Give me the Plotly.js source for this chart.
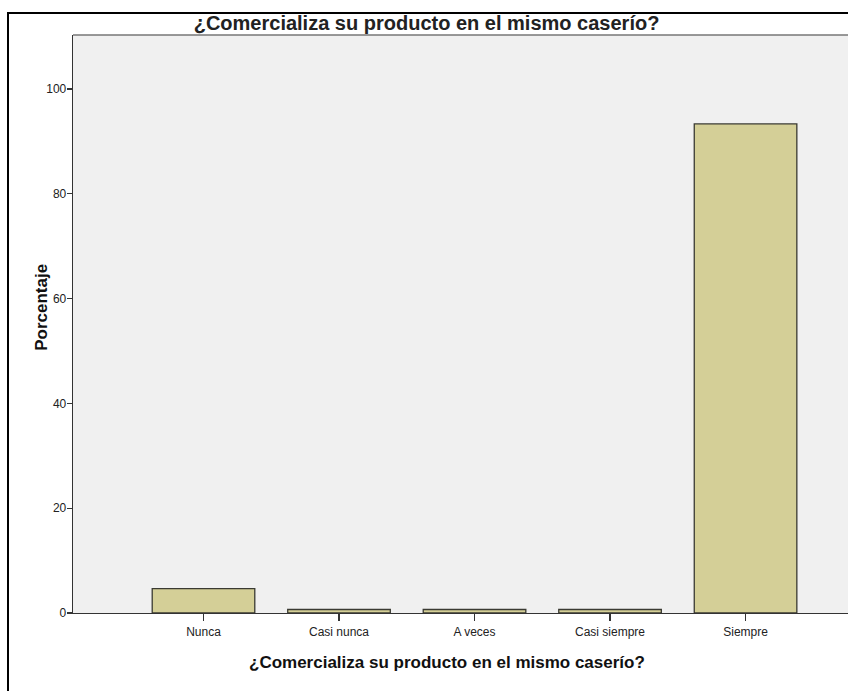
<!DOCTYPE html>
<html>
<head>
<meta charset="utf-8">
<script src="https://cdn.plot.ly/plotly-3.0.1.min.js"></script>
<style>
html,body{margin:0;padding:0;background:#fff;overflow:hidden;}
#wrap{position:relative;width:848px;height:691px;}
#chart{position:absolute;left:0;top:0;width:848px;height:691px;}
#frame{position:absolute;left:7px;top:12px;width:900px;height:800px;border:2px solid #000;pointer-events:none;}
</style>
</head>
<body>
<div id="wrap">
<div id="chart"></div>
<div id="frame"></div>
</div>
<script>
const categories = ["Nunca", "Casi nunca", "A veces", "Casi siempre", "Siempre"];
const percentages = [4.67, 0.67, 0.67, 0.67, 93.33];
const yTickValues = [0, 20, 40, 60, 80, 100];
const chartTitle = "¿Comercializa su producto en el mismo caserío?";
const xTitle = "¿Comercializa su producto en el mismo caserío?";
const yTitle = "Porcentaje";

const FONT = "Arial, Liberation Sans, sans-serif";

const trace = {
  type: "bar",
  x: categories,
  y: percentages,
  width: 0.757,
  marker: {color: "#d4cf97", line: {color: "#3a3a32", width: 1.3}},
  hoverinfo: "x+y"
};

const layout = {
  width: 848, height: 691,
  margin: {l: 73, r: 0, t: 35, b: 78},
  paper_bgcolor: "#ffffff",
  plot_bgcolor: "#f0f0f0",
  showlegend: false,
  bargap: 0,
  title: {text: chartTitle, x: 0.503, xref: "container", xanchor: "center", y: 0.967, yanchor: "middle",
          font: {family: FONT, size: 20, color: "#222", weight: "bold"}},
  xaxis: {
    type: "category",
    range: [-0.963, 4.756],
    showline: true, linecolor: "#333", linewidth: 1.3,
    ticks: "outside", ticklen: 7, tickcolor: "#333", tickwidth: 1.3,
    showgrid: false, zeroline: false,
    tickfont: {family: FONT, size: 12, color: "#222"}
  },
  yaxis: {
    range: [0, 110.3],
    tickvals: yTickValues,
    showline: true, linecolor: "#333", linewidth: 1.3,
    ticks: "outside", ticklen: 5, tickcolor: "#333", tickwidth: 1.3,
    ticklabelstandoff: -2,
    showgrid: false, zeroline: false,
    tickfont: {family: FONT, size: 12, color: "#222"}
  },
  annotations: [
    {text: xTitle, xref: "paper", yref: "paper", x: 0.4826, y: -0.085,
     xanchor: "center", yanchor: "middle", showarrow: false,
     font: {family: FONT, size: 17, color: "#111", weight: "bold"}},
    {text: yTitle, xref: "paper", yref: "paper", x: -0.04, y: 0.528, textangle: -90,
     xanchor: "center", yanchor: "middle", showarrow: false,
     font: {family: FONT, size: 17, color: "#111", weight: "bold"}}
  ],
  shapes: [
    {type: "line", xref: "paper", yref: "paper", x0: 0, x1: 1, y0: 1, y1: 1,
     line: {color: "#777", width: 1.5}}
  ]
};

Plotly.newPlot("chart", [trace], layout, {displayModeBar: false, staticPlot: true});
</script>
</body>
</html>
